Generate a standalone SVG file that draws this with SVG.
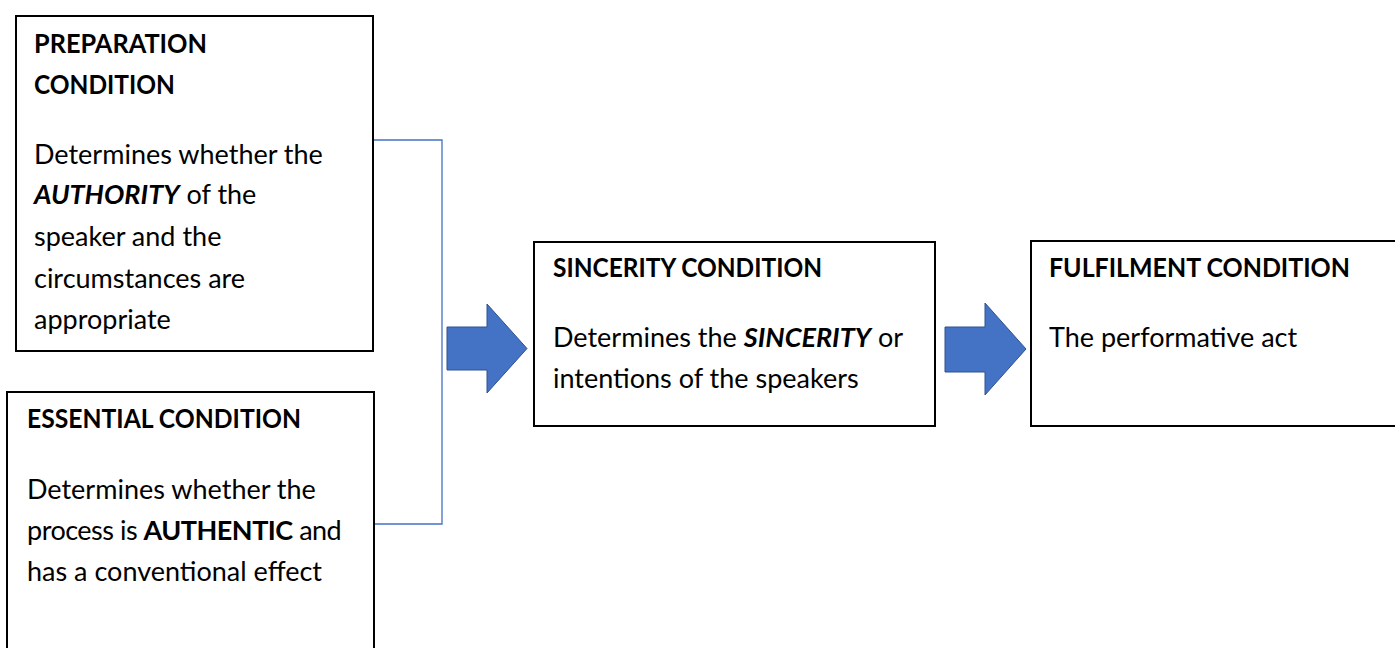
<svg xmlns="http://www.w3.org/2000/svg" width="1395" height="648" viewBox="0 0 1395 648">
<style>
.box{fill:#fff;stroke:#000;stroke-width:2}
text{font-family:Lato,"Liberation Sans",sans-serif;font-size:27px;fill:#000}
.h{font-weight:bold}
.b{font-weight:bold}
.bi{font-weight:bold;font-style:italic}
.tight{letter-spacing:-0.5px}
.arrow{fill:#4472C4;stroke:#2F528F;stroke-width:1}
.link{fill:none;stroke:#4472C4;stroke-width:1.3}
</style>
<rect width="1395" height="648" fill="#fff"/>
<g id="connectors">
<polyline class="link" points="373,140 442,140 442,524 374,524"/>
<path class="arrow" d="M447,327 H487 V304 L527,348.5 L487,393 V370 H447 Z"/>
<path class="arrow" d="M945,327 H985 V303 L1026,349 L985,395 V372 H945 Z"/>
</g>
<g id="preparation">
<rect class="box" x="16" y="16" width="357" height="335"/>
<text x="34" y="53" class="h" textLength="173" lengthAdjust="spacingAndGlyphs">PREPARATION</text>
<text x="34" y="94" class="h" textLength="141" lengthAdjust="spacingAndGlyphs">CONDITION</text>
<text x="34" y="164">Determines whether the</text>
<text x="34" y="204"><tspan class="bi">AUTHORITY</tspan> of the</text>
<text x="34" y="246">speaker and the</text>
<text x="34" y="288">circumstances are</text>
<text x="34" y="329">appropriate</text>
</g>
<g id="essential">
<rect class="box" x="7" y="392" width="367" height="280"/>
<text x="27" y="428" class="h" textLength="274" lengthAdjust="spacingAndGlyphs">ESSENTIAL CONDITION</text>
<text x="27" y="499">Determines whether the</text>
<text x="27" y="540" class="tight">process is <tspan class="b">AUTHENTIC</tspan> and</text>
<text x="27" y="581">has a conventional effect</text>
</g>
<g id="sincerity">
<rect class="box" x="534" y="242" width="401" height="184"/>
<text x="553" y="277" class="h" textLength="269" lengthAdjust="spacingAndGlyphs">SINCERITY CONDITION</text>
<text x="553" y="347">Determines the <tspan class="bi">SINCERITY</tspan> or</text>
<text x="553" y="388">intentions of the speakers</text>
</g>
<g id="fulfilment">
<rect class="box" x="1031" y="241" width="380" height="185"/>
<text x="1049" y="277" class="h" textLength="301" lengthAdjust="spacingAndGlyphs">FULFILMENT CONDITION</text>
<text x="1049" y="347">The performative act</text>
</g>
</svg>
